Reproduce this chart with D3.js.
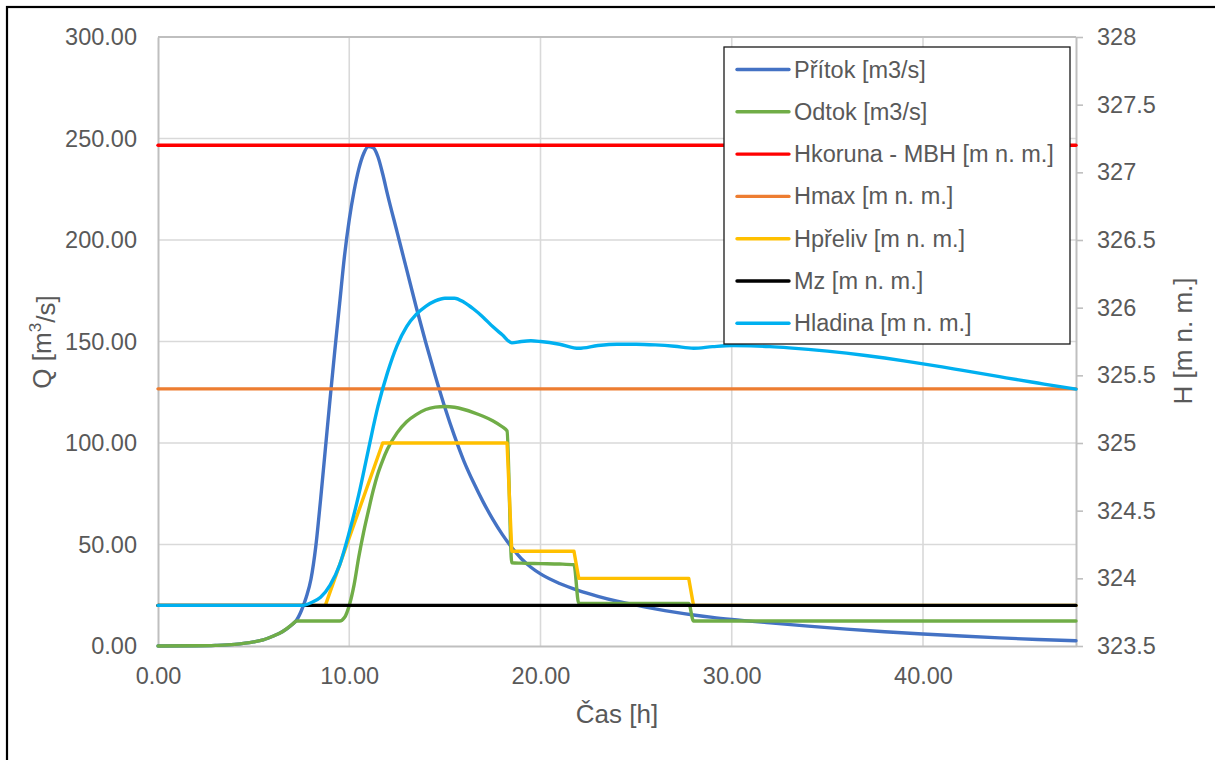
<!DOCTYPE html>
<html lang="cs">
<head>
<meta charset="utf-8">
<script src="https://cdn.jsdelivr.net/npm/d3@7/dist/d3.min.js"></script>
<style>
  html, body { margin: 0; padding: 0; background: #fff; }
  svg { display: block; font-family: Arial, "Liberation Sans", sans-serif; }
</style>
</head>
<body>
<svg id="chart" width="1215" height="760"></svg>
<script>
// Přítok [m3/s] – inflow hydrograph
const pritokT = [0, 2, 3, 4, 5, 5.5, 6, 6.5, 7, 7.25, 7.5, 7.75, 8, 8.25, 8.5, 8.75, 9, 9.25, 9.5, 9.75,
  10, 10.25, 10.5, 10.75, 11, 11.25, 11.5, 11.75, 12, 12.5, 13, 13.5, 14, 14.5, 15, 15.5, 16, 16.5, 17,
  17.5, 18, 18.5, 19, 19.5, 20, 21, 22, 23, 24, 25, 26, 27, 28, 29, 30, 32, 34, 36, 38, 40, 42, 44, 46, 48];
const pritokQ = [0, 0.1, 0.3, 0.8, 2, 3, 4.8, 7, 10.5, 12.8, 17.5, 24, 33, 49, 72, 97, 122, 146, 169, 192,
  210, 224, 235, 242.5, 246, 245.5, 241, 232.5, 222.5, 204, 185.5, 167, 149.5, 133, 117.5, 103.5, 91, 80.5, 71,
  62.5, 55, 48.5, 43, 38.8, 35.5, 30.8, 27.3, 24.5, 22.1, 20.1, 18.3, 16.7, 15.3, 14.1, 13.1, 11.4, 9.8, 8.3, 7, 5.9, 4.9, 4, 3.2, 2.6];

// Odtok [m3/s] – outflow
const odtokT = [0, 2, 3, 4, 5, 5.5, 6, 6.5, 7, 7.25, 9.5, 9.75, 10, 10.25, 10.5, 10.75, 11, 11.25, 11.5, 11.75,
  12, 12.5, 13, 13.5, 14, 14.5, 15, 15.5, 16, 16.5, 17, 17.5, 18, 18.25, 18.5, 19, 20, 21, 21.75, 22, 27.75, 28, 48];
const odtokQ = [0, 0.1, 0.3, 0.8, 2, 3, 4.8, 7, 10.5, 12.3, 12.3, 14, 20, 30, 44, 56, 66.5, 76.5, 85, 91.5,
  97, 105, 110.5, 114, 116.5, 117.7, 118, 117.6, 116.5, 115, 113.2, 111, 108, 106, 41, 40.8, 40.6, 40.4, 40, 21, 21, 12.3, 12.3];

// Constant levels [m n. m.]
const hKorunaT = [0, 48];
const hKorunaH = [327.2, 327.2];
const hMaxT = [0, 48];
const hMaxH = [325.4, 325.4];
const mzT = [0, 48];
const mzH = [323.8, 323.8];

// Hpřeliv [m n. m.] – spillway level
const hPrelivT = [0, 8.75, 11.75, 18.25, 18.5, 21.75, 22, 27.75, 28, 48];
const hPrelivH = [323.8, 323.8, 325.0, 325.0, 324.2, 324.2, 324.0, 324.0, 323.8, 323.8];

// Hladina [m n. m.] – water surface level
const hladinaT = [0, 7.5, 8, 8.5, 9, 9.5, 10, 10.5, 11, 11.5, 12, 12.5, 13, 13.5, 14, 14.5, 15, 15.5, 16,
  16.5, 17, 17.5, 18, 18.5, 19, 19.5, 20, 21, 22, 23, 24, 25, 26, 27, 28, 29, 30, 31, 32, 33, 34, 35, 36,
  37, 38, 39, 40, 41, 42, 43, 44, 45, 46, 47, 48];
const hladinaH = [323.8, 323.8, 323.82, 323.86, 323.95, 324.1, 324.34, 324.62, 324.95, 325.27, 325.52, 325.72,
  325.86, 325.95, 326.01, 326.05, 326.07, 326.07, 326.04, 325.99, 325.93, 325.86, 325.8, 325.74, 325.75,
  325.755, 325.75, 325.73, 325.70, 325.72, 325.73, 325.73, 325.725, 325.715, 325.70, 325.712, 325.72,
  325.718, 325.712, 325.703, 325.692, 325.679, 325.664, 325.647, 325.628, 325.607, 325.585, 325.562, 325.538,
  325.514, 325.49, 325.466, 325.443, 325.42, 325.398];

// Axis ticks and labels
const xTicks = [0, 10, 20, 30, 40];
const qTicks = [0, 50, 100, 150, 200, 250, 300];
const hTicks = [323.5, 324, 324.5, 325, 325.5, 326, 326.5, 327, 327.5, 328];
const xTitle = "Čas [h]";
const hTitle = "H [m n. m.]";

const seriesNames = ["Přítok [m3/s]", "Odtok [m3/s]", "Hkoruna - MBH [m n. m.]", "Hmax [m n. m.]",
  "Hpřeliv [m n. m.]", "Mz [m n. m.]", "Hladina [m n. m.]"];
const seriesColors = ["#4472C4", "#70AD47", "#FF0000", "#ED7D31", "#FFC000", "#000000", "#00B0F0"];

const svg = d3.select("#chart");
const plotL = 158, plotR = 1076, plotT = 37, plotB = 646;

const x = d3.scaleLinear().domain([0, 48]).range([plotL, plotR]);
const yQ = d3.scaleLinear().domain([0, 300]).range([plotB, plotT]);
const yH = d3.scaleLinear().domain([323.5, 328]).range([plotB, plotT]);

// outer chart frame
svg.append("rect").attr("x", 7).attr("y", 7).attr("width", 1300).attr("height", 900)
  .attr("fill", "none").attr("stroke", "#000").attr("stroke-width", 2.2);

// gridlines
const grid = svg.append("g");
grid.selectAll("line.h").data(qTicks.filter(d => d > 0)).join("line")
  .attr("x1", plotL).attr("x2", plotR).attr("y1", d => yQ(d)).attr("y2", d => yQ(d))
  .attr("stroke", "#d9d9d9").attr("stroke-width", 1.6);
grid.selectAll("line.v").data(xTicks.filter(d => d > 0)).join("line")
  .attr("y1", plotT).attr("y2", plotB).attr("x1", d => x(d)).attr("x2", d => x(d))
  .attr("stroke", "#d9d9d9").attr("stroke-width", 1.6);
// top border of plot area
svg.append("line").attr("x1", plotL).attr("x2", plotR).attr("y1", plotT).attr("y2", plotT)
  .attr("stroke", "#bfbfbf").attr("stroke-width", 2);

const fmt2 = d3.format(".2f");
const fmtH = d => (Math.round(d * 10) % 10 === 0 ? d3.format(".0f")(d) : d3.format(".1f")(d));
const labelFont = "23.5px";

function styleAxis(g) {
  g.select(".domain").attr("stroke", "#bfbfbf").attr("stroke-width", 2);
  g.selectAll(".tick line").attr("stroke", "#bfbfbf").attr("stroke-width", 1.6);
  g.selectAll(".tick text").attr("fill", "#595959").style("font-size", labelFont)
    .style("font-family", 'Arial, "Liberation Sans", sans-serif');
}

const axL = svg.append("g").attr("transform", `translate(${plotL},0)`)
  .call(d3.axisLeft(yQ).tickValues(qTicks).tickFormat(fmt2).tickSizeInner(0).tickSizeOuter(0).tickPadding(21));
styleAxis(axL);

const axB = svg.append("g").attr("transform", `translate(0,${plotB})`)
  .call(d3.axisBottom(x).tickValues(xTicks).tickFormat(fmt2).tickSizeInner(0).tickSizeOuter(0).tickPadding(21));
styleAxis(axB);

const axR = svg.append("g").attr("transform", `translate(${plotR},0)`)
  .call(d3.axisRight(yH).tickValues(hTicks).tickFormat(fmtH).tickSizeInner(7).tickSizeOuter(0).tickPadding(14));
styleAxis(axR);

// axis titles
const titleFont = "26px";
svg.append("text").attr("x", 617).attr("y", 714).attr("text-anchor", "middle")
  .attr("dominant-baseline", "central").attr("fill", "#595959").style("font-size", titleFont).text(xTitle);

const qTitle = svg.append("text").attr("transform", "translate(42,342) rotate(-90)")
  .attr("text-anchor", "middle").attr("dominant-baseline", "central")
  .attr("fill", "#595959").style("font-size", titleFont);
qTitle.append("tspan").text("Q [m");
qTitle.append("tspan").attr("dy", "-0.4em").style("font-size", "17px").text("3");
qTitle.append("tspan").attr("dy", "0.4em").text("/s]");

svg.append("text").attr("transform", "translate(1183,341) rotate(-90)")
  .attr("text-anchor", "middle").attr("dominant-baseline", "central")
  .attr("fill", "#595959").style("font-size", titleFont).text(hTitle);

// series
const series = [
  { t: pritokT, v: pritokQ, y: yQ, curve: d3.curveMonotoneX },
  { t: odtokT, v: odtokQ, y: yQ, curve: d3.curveMonotoneX },
  { t: hKorunaT, v: hKorunaH, y: yH, curve: d3.curveLinear },
  { t: hMaxT, v: hMaxH, y: yH, curve: d3.curveLinear },
  { t: hPrelivT, v: hPrelivH, y: yH, curve: d3.curveLinear },
  { t: mzT, v: mzH, y: yH, curve: d3.curveLinear },
  { t: hladinaT, v: hladinaH, y: yH, curve: d3.curveMonotoneX }
];

const plot = svg.append("g");
series.forEach((s, i) => {
  const pts = s.t.map((t, k) => [t, s.v[k]]);
  const line = d3.line().x(d => x(d[0])).y(d => s.y(d[1])).curve(s.curve);
  plot.append("path").attr("d", line(pts)).attr("fill", "none")
    .attr("stroke", seriesColors[i]).attr("stroke-width", 3.4)
    .attr("stroke-linejoin", "round").attr("stroke-linecap", "round");
});

// legend
const lg = svg.append("g");
lg.append("rect").attr("x", 724).attr("y", 47).attr("width", 346).attr("height", 297)
  .attr("fill", "#fff").attr("stroke", "#1a1a1a").attr("stroke-width", 1.3);
seriesNames.forEach((name, i) => {
  const cy = 69.5 + i * 42.3;
  lg.append("line").attr("x1", 737).attr("x2", 789).attr("y1", cy).attr("y2", cy)
    .attr("stroke", seriesColors[i]).attr("stroke-width", 3.4).attr("stroke-linecap", "round");
  lg.append("text").attr("x", 794).attr("y", cy).attr("dominant-baseline", "central")
    .attr("fill", "#595959").style("font-size", labelFont).text(name);
});
</script>
</body>
</html>
